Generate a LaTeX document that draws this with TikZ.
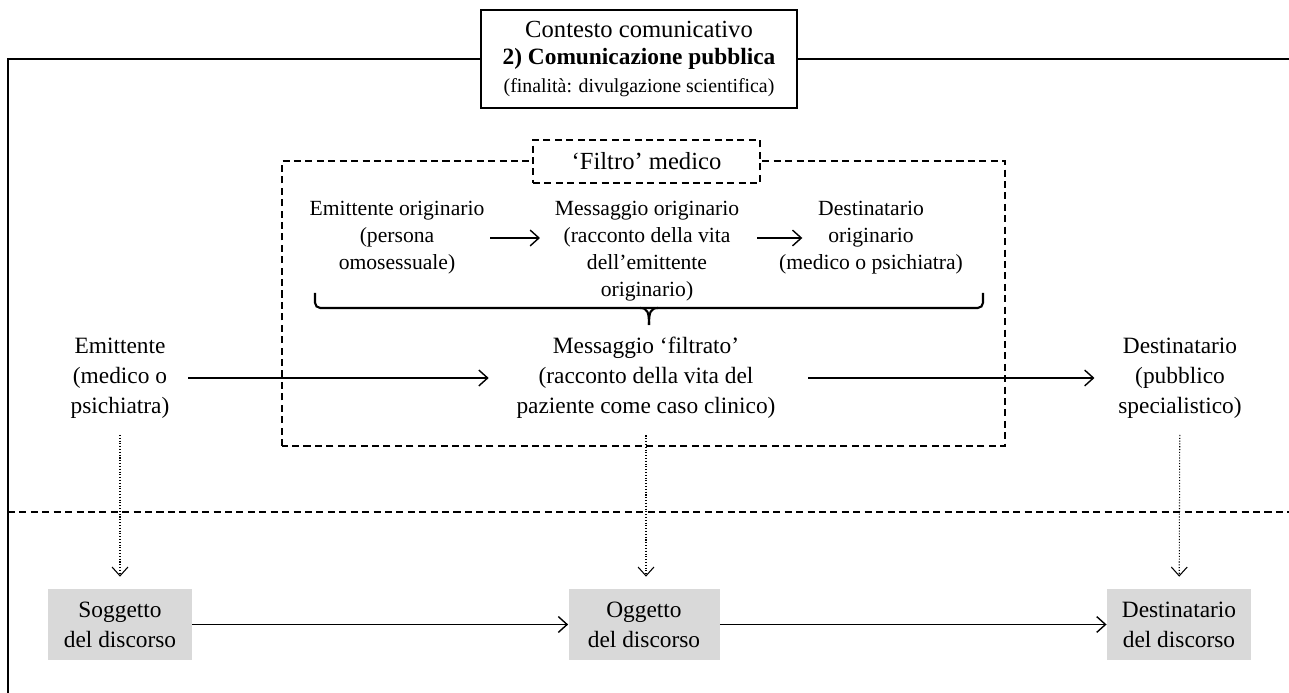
\documentclass[tikz,border=0pt]{standalone}
\usepackage{fontspec}
\setmainfont{Liberation Serif}
\usetikzlibrary{arrows.meta}
\usetikzlibrary{positioning}
\definecolor{boxgrey}{RGB}{217,217,217}

\begin{document}
\begin{tikzpicture}[
  txt/.style={align=center,font=\fontsize{12.3}{15.3}\selectfont,inner sep=2pt},
  bigtxt/.style={align=center,font=\fontsize{13.3}{17}\selectfont,inner sep=2pt},
  arr/.style={thick,-{Straight Barb[length=5pt,width=9pt]}},
  dotarr/.style={semithick,densely dotted,-{Straight Barb[length=5pt,width=9pt]}},
  dashline/.style={thick,dash pattern=on 4pt off 2.5pt},
  greybox/.style={bigtxt,fill=boxgrey,minimum height=1.42cm,inner xsep=0.3cm}
]
\useasboundingbox (0,0) rectangle (25.78,13.86);

% contesto comunicativo
\node[align=center,font=\fontsize{14}{15.5}\selectfont,inner sep=2pt,draw,thick,minimum width=6.32cm,minimum height=1.96cm] (ctx) at (12.78,12.68)
  {Contesto comunicativo\\{\fontsize{13.3}{15.5}\selectfont\bfseries 2) Comunicazione pubblica}\\{\fontsize{11.3}{13}\selectfont (finalità: divulgazione scientifica)}};
\draw[thick] (0.16,0) |- (ctx.west);
\draw[thick] (ctx.east) -- ++(9.84,0);

% filtro medico
\draw[dashline] (5.64,4.94) rectangle (20.10,10.64);
\node[txt,font=\fontsize{14}{16}\selectfont,draw,dashline,fill=white,minimum width=4.54cm,minimum height=0.86cm] (filtro) at (12.93,10.63) {`Filtro' medico};

\node[txt] (eo) at (7.94,9.10) {Emittente originario\\(persona\\omosessuale)};
\node[txt] (mo) at (12.94,8.83) {Messaggio originario\\(racconto della vita\\dell'emittente\\originario)};
\node[txt] (do) at (17.42,9.10) {Destinatario\\originario\\(medico o psichiatra)};
\draw[arr,shorten <=0.04cm,shorten >=0.22cm] (eo.east) -- (eo.east -| mo.west);
\draw[arr,shorten <=0.28cm,shorten >=-0.54cm] (eo.east -| mo.east) -- (eo.east -| do.west);

% graffa
\coordinate (brL) at (6.30,8.00);
\coordinate (brR) at (19.66,8.00);
\coordinate (brM) at (12.98,7.70);
\coordinate (brT) at (12.98,7.36);
\draw[very thick,rounded corners=3pt] (brL) |- (brR |- brM) -- (brR);
\draw[very thick] (12.80,7.70) .. controls (12.95,7.70) and (12.98,7.62) .. (brT);
\draw[very thick] (13.16,7.70) .. controls (13.01,7.70) and (12.98,7.62) .. (brT);

\node[bigtxt] (em) at (2.40,6.30) {Emittente\\(medico o\\psichiatra)};
\node[bigtxt] (mf) at (12.92,6.30) {Messaggio `filtrato'\\(racconto della vita del\\paziente come caso clinico)};
\node[bigtxt] (de) at (23.60,6.30) {Destinatario\\(pubblico\\specialistico)};
\draw[arr,shorten <=0.3cm,shorten >=0.48cm] (em) -- (mf);
\draw[arr,shorten <=0.58cm,shorten >=0.4cm] (mf) -- (de);

\draw[dashline] (0.16,3.62) -- (25.78,3.62);

% discorso
\node[greybox,minimum width=2.88cm] (sd) at (2.40,1.37) {Soggetto\\del discorso};
\node[greybox,minimum width=3.02cm] (od) at (12.88,1.37) {Oggetto\\del discorso};
\node[greybox] (dd) at (23.58,1.37) {Destinatario\\del discorso};
\draw[arr] (sd) -- (od);
\draw[arr] (od) -- (dd);

\draw[dotarr,shorten <=0.26cm,shorten >=0.24cm] (em) -- (sd);
\draw[dotarr,shorten <=0.26cm,shorten >=0.24cm] (mf.south) -- (mf.south |- od.north);
\draw[dotarr,shorten <=0.26cm,shorten >=0.24cm] (de) -- (dd);

\end{tikzpicture}
\end{document}
